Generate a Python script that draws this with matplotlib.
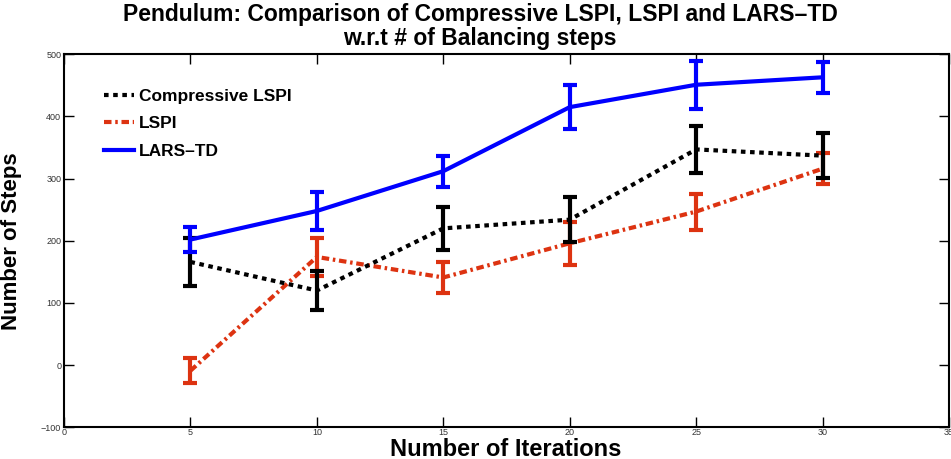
import matplotlib
matplotlib.use("Agg")
import matplotlib.pyplot as plt

# Data
iterations = [5, 10, 15, 20, 25, 30]

compressive_lspi = [166, 120, 220, 234, 347, 337]
compressive_err = [39, 31, 35, 36, 38, 36]

lspi = [-9, 174, 141, 196, 247, 316]
lspi_err = [20, 31, 25, 35, 29, 25]

lars_td = [202, 248, 312, 415, 451, 463]
lars_err = [20, 30, 25, 35, 39, 25]

plt.rcParams['font.family'] = ['Liberation Sans', 'DejaVu Sans']

fig = plt.figure(figsize=(9.51, 4.59), dpi=100)
ax = fig.add_axes([64 / 951, 1 - 427.3 / 459, 885 / 951, 373 / 459])

c1 = ax.errorbar(iterations, compressive_lspi, yerr=compressive_err, color="black",
                 linestyle=(0, (1.1, 1.1)), linewidth=3, elinewidth=3, capsize=5,
                 capthick=3, zorder=3)
c2 = ax.errorbar(iterations, lspi, yerr=lspi_err, color="#dd3311",
                 linestyle=(0, (1.8, 0.9, 0.6, 0.9)), linewidth=3, elinewidth=3, capsize=5,
                 capthick=3, zorder=2)
c3 = ax.errorbar(iterations, lars_td, yerr=lars_err, color="#0000ff",
                 linestyle="-", linewidth=3, elinewidth=3, capsize=5,
                 capthick=3, zorder=4)

ax.set_xlim(0, 35)
ax.set_ylim(-100, 500)
ax.set_xticks([0, 5, 10, 15, 20, 25, 30, 35])
ax.set_yticks([-100, 0, 100, 200, 300, 400, 500])
ax.set_yticklabels(["\u2212100", "0", "100", "200", "300", "400", "500"])
ax.tick_params(direction="in", length=7, width=1, top=True, right=True,
               labelsize=6.5, labelcolor="#333333", pad=2)
ax.tick_params(axis="x", pad=0.8)
for s in ax.spines.values():
    s.set_linewidth(1.5)

fig.text(480 / 951, 1 - 3 / 459,
         "Pendulum: Comparison of Compressive LSPI, LSPI and LARS\u2013TD\nw.r.t # of Balancing steps",
         ha="center", va="top", fontsize=16.5, fontweight="bold", linespacing=1.05)
fig.text(506 / 951, 1 - 455.5 / 459, "Number of Iterations", ha="center",
         va="baseline", fontsize=17, fontweight="bold")
ax.set_ylabel("Number of Steps", fontsize=16, fontweight="bold", labelpad=14)

ax.legend([c1[0], c2[0], c3[0]], ["Compressive LSPI", "LSPI", "LARS\u2013TD"],
          loc="upper left", bbox_to_anchor=(0.027, 0.95), frameon=False,
          prop={"weight": "bold", "size": 12.5}, handlelength=1.75,
          handletextpad=0.3, labelspacing=0.72)

fig.savefig("out.png", dpi=100)
